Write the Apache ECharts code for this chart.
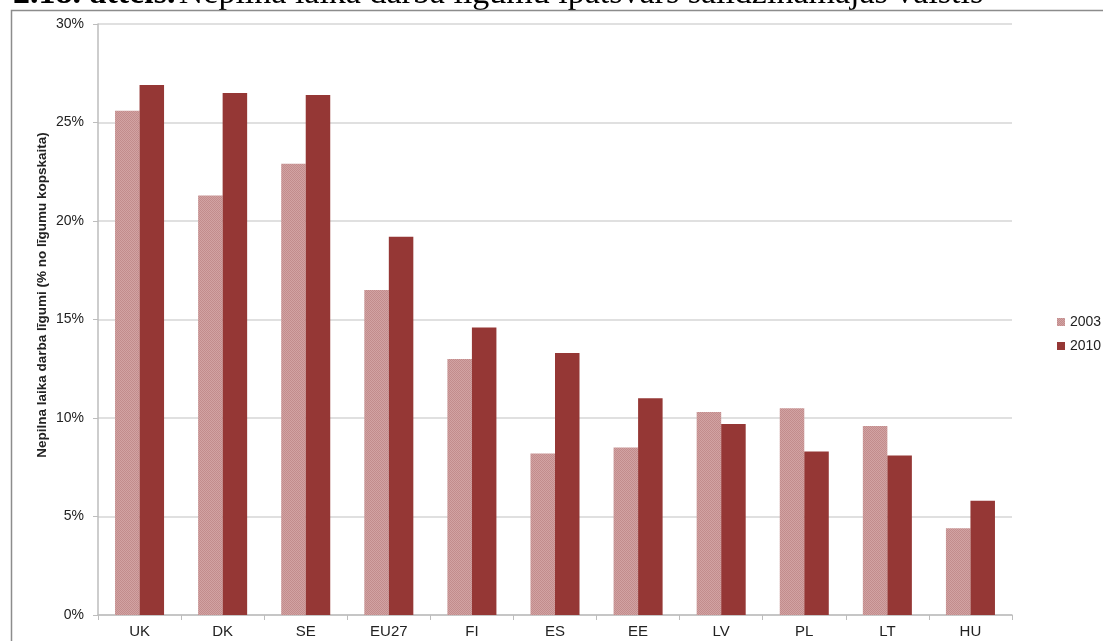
<!DOCTYPE html>
<html><head><meta charset="utf-8">
<script src="https://cdn.jsdelivr.net/npm/echarts@6/dist/echarts.min.js"></script>
<style>html,body{margin:0;padding:0;background:#fff}#c{width:1103px;height:641px}</style>
</head><body><div id="c"></div>
<script>
const categories = ['UK','DK','SE','EU27','FI','ES','EE','LV','PL','LT','HU'];
const values2003 = [25.6, 21.3, 22.9, 16.5, 13.0, 8.2, 8.5, 10.3, 10.5, 9.6, 4.4];
const values2010 = [26.9, 26.5, 26.4, 19.2, 14.6, 13.3, 11.0, 9.7, 8.3, 8.1, 5.8];
const seriesNames = ['2003', '2010'];
const yTicks = [0, 5, 10, 15, 20, 25, 30];

// fine checker texture for 2003 bars
const pc = document.createElement('canvas');
pc.width = 2; pc.height = 2;
const px = pc.getContext('2d');
px.fillStyle = '#d2a3a3'; px.fillRect(0,0,2,2);
px.fillStyle = '#c28c8c'; px.fillRect(0,0,1,1); px.fillRect(1,1,1,1);

const chart = echarts.init(document.getElementById('c'), null, {renderer:'canvas'});
chart.setOption({
  animation: false,
  backgroundColor: '#fff',
  grid: {left: 98, right: 91, top: 24, bottom: 26, containLabel: false},
  legend: {
    orient: 'vertical', left: 1052, top: 310, itemWidth: 8, itemHeight: 8, itemGap: 10,
    icon: 'rect',
    textStyle: {fontFamily: 'Liberation Sans', fontSize: 14, color: '#222'},
    data: seriesNames
  },
  xAxis: {
    type: 'category', data: categories,
    axisLine: {lineStyle: {color: '#bdbdbd', width: 1.5}},
    axisTick: {show: true, length: 5, lineStyle: {color: '#bdbdbd'}},
    axisLabel: {fontFamily: 'Liberation Sans', fontSize: 15, color: '#222', margin: 9}
  },
  yAxis: {
    type: 'value', min: yTicks[0], max: yTicks[yTicks.length-1], interval: 5,
    axisLine: {show: true, lineStyle: {color: '#bdbdbd', width: 1.5}},
    axisTick: {show: true, length: 5, lineStyle: {color: '#bdbdbd'}},
    splitLine: {lineStyle: {color: '#d6d6d6', width: 1.5}},
    axisLabel: {fontFamily: 'Liberation Sans', fontSize: 14, color: '#222', margin: 14,
      formatter: v => v + '%'}
  },
  series: [
    {name: seriesNames[0], type: 'bar', data: values2003, barGap: '0%', barCategoryGap: '41%',
      itemStyle: {color: {image: pc, repeat: 'repeat'}}},
    {name: seriesNames[1], type: 'bar', data: values2010, barGap: '0%', barCategoryGap: '41%',
      itemStyle: {color: '#953735'}}
  ],
  graphic: [
    {type: 'rect', shape: {x: 11.5, y: 10.5, width: 1200, height: 700},
      style: {fill: 'none', stroke: '#8c8c8c', lineWidth: 1.5}, silent: true, z: 100},
    {type: 'text', x: 42, y: 295, rotation: Math.PI/2,
      style: {text: 'Nepilna laika darba līgumi (% no līgumu kopskaita)',
        font: 'bold 13.5px "Liberation Sans"', fill: '#222', align: 'center', verticalAlign: 'middle'}},
    {type: 'text', x: 13, y: 12,
      style: {
        text: '{b|2.18. attēls.} {r|Nepilna laika darba līgumu īpatsvars salīdzināmajās valstīs}',
        verticalAlign: 'bottom', align: 'left',
        rich: {
          b: {fontFamily: 'Liberation Serif', fontWeight: 'bold', fontSize: 34, fill: '#000', lineHeight: 36},
          r: {fontFamily: 'Liberation Serif', fontSize: 34, fill: '#000', lineHeight: 36}
        }
      }}
  ]
});
</script></body></html>
